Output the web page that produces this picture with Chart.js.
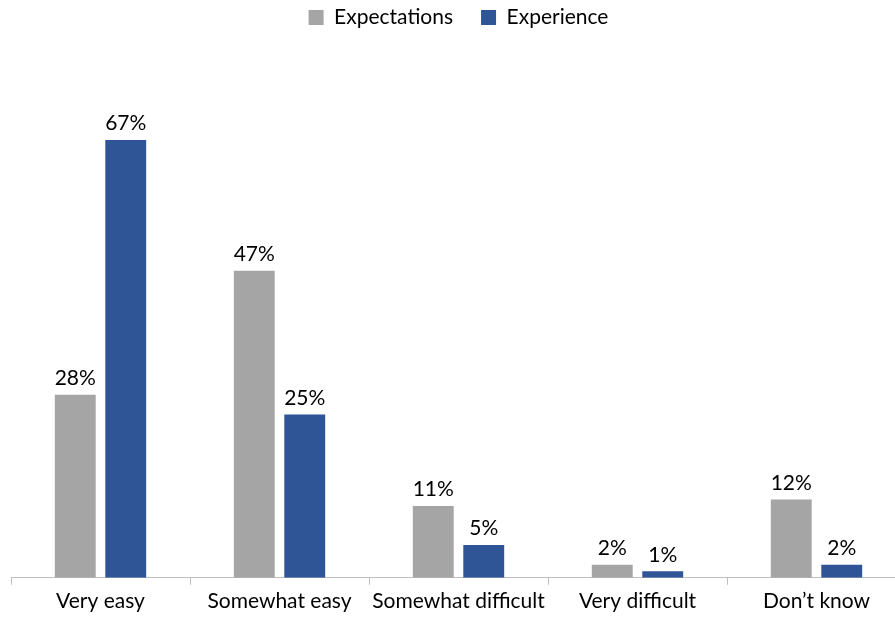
<!DOCTYPE html>
<html>
<head>
<meta charset="utf-8">
<script src="https://cdn.jsdelivr.net/npm/chart.js@4.4.0/dist/chart.umd.min.js"></script>
<style>
  html, body { margin: 0; padding: 0; background: #fff; overflow: hidden; }
  #wrap { width: 910px; height: 621px; }
</style>
</head>
<body>
<div id="wrap"><canvas id="easeChart"></canvas></div>
<script>
var categories = ["Very easy", "Somewhat easy", "Somewhat difficult", "Very difficult", "Don\u2019t know"];
var expectations = [28, 47, 11, 2, 12];
var experience = [67, 25, 5, 1, 2];

// draw the % labels above each bar
var barLabels = {
  id: "barLabels",
  afterDatasetsDraw: function(chart) {
    var ctx = chart.ctx;
    ctx.save();
    ctx.font = "21px Lato";
    ctx.fillStyle = "#000";
    ctx.textAlign = "center";
    ctx.textBaseline = "bottom";
    chart.data.datasets.forEach(function(ds, i) {
      var meta = chart.getDatasetMeta(i);
      meta.data.forEach(function(bar, j) {
        ctx.fillText(ds.data[j] + "%", bar.x, bar.y - 6);
      });
    });
    ctx.restore();
  }
};

var ctx = document.getElementById("easeChart");
var chart = new Chart(ctx, {
  type: "bar",
  data: {
    labels: categories,
    datasets: [
      { label: "Expectations", data: expectations, backgroundColor: "#A5A5A5" },
      { label: "Experience", data: experience, backgroundColor: "#2F5597" }
    ]
  },
  options: {
    responsive: true,
    maintainAspectRatio: false,
    animation: false,
    devicePixelRatio: 1,
    layout: { padding: { left: 11, right: 4, top: 0, bottom: 3 } },
    datasets: {
      bar: { categoryPercentage: 0.564, barPercentage: 0.81 }
    },
    plugins: {
      legend: {
        position: "top",
        labels: {
          font: { family: "Lato", size: 21 },
          color: "#000",
          boxWidth: 15,
          boxHeight: 15,
          padding: 7,
          generateLabels: function(chart) {
            var items = Chart.defaults.plugins.legend.labels.generateLabels(chart);
            // wider gap between the two legend entries
            items[0].text = items[0].text + "\u2002\u2002";
            return items;
          }
        }
      },
      tooltip: { enabled: false }
    },
    scales: {
      x: {
        grid: {
          offset: true,
          drawOnChartArea: false,
          drawTicks: true,
          tickLength: 7,
          color: "#BFBFBF"
        },
        border: { color: "#BFBFBF", width: 1 },
        ticks: {
          font: { family: "Lato", size: 21 },
          color: "#000",
          padding: 4,
          maxRotation: 0,
          autoSkip: false
        }
      },
      y: {
        display: false,
        min: 0,
        max: 82.6
      }
    }
  },
  plugins: [barLabels]
});
</script>
</body>
</html>
